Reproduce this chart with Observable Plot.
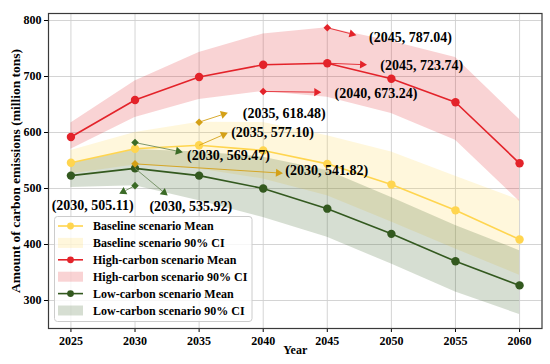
<!DOCTYPE html>
<html>
<head>
<meta charset="utf-8">
<script src="https://cdn.jsdelivr.net/npm/d3@7"></script>
<script src="https://cdn.jsdelivr.net/npm/@observablehq/plot@0.6"></script>
<style>
  body { margin: 0; background: #fff; }
  #chart { width: 550px; height: 364px; }
</style>
</head>
<body>
<div id="chart"></div>
<script>
// ---------- data ----------
const years = [2025, 2030, 2035, 2040, 2045, 2050, 2055, 2060];

const baselineMean = [546, 571, 577.10, 568, 544, 507, 461, 409];
const baselineLow  = [526, 541.82, 535, 517, 487, 440, 392, 345];
const baselineHigh = [568, 600, 618.48, 618, 594, 565, 522, 479];

const highMean = [592, 658, 699, 721, 723.74, 696, 654, 545];
const highLow  = [570, 627, 659, 673.24, 663, 634, 586, 477];
const highHigh = [617, 692, 743, 776, 787.04, 763, 734, 623];

const lowMean = [523, 535.92, 523, 500, 464, 419, 370, 327];
const lowLow  = [502, 505.11, 478, 448, 413, 365, 315, 275];
const lowHigh = [545, 569.47, 565, 556, 532, 484, 434, 389];

const yTicks = [300, 400, 500, 600, 700, 800];

const seriesNames = ["Baseline scenario", "High-carbon scenario", "Low-carbon scenario"];

// annotation arrows: start point, arrow tip and text position in data units
const annotations = [
  {year: 2045, value: 787.04, tipYear: 2047.27, tipValue: 773.8, textYear: 2048.26, textValue: 770.2, label: "(2045, 787.04)", series: "high", diamond: true, anchor: "start"},
  {year: 2045, value: 723.74, tipYear: 2048.1, tipValue: 720.9, textYear: 2049.14, textValue: 719.6, label: "(2045, 723.74)", series: "high", diamond: false, anchor: "start"},
  {year: 2040, value: 673.24, tipYear: 2044.53, tipValue: 672.0, textYear: 2045.57, textValue: 670.2, label: "(2040, 673.24)", series: "high", diamond: true, anchor: "start"},
  {year: 2035, value: 618.48, tipYear: 2037.24, tipValue: 635.2, textYear: 2038.41, textValue: 634.0, label: "(2035, 618.48)", series: "base", diamond: true, anchor: "start"},
  {year: 2035, value: 577.10, tipYear: 2037.24, tipValue: 599.5, textYear: 2037.5, textValue: 599.5, label: "(2035, 577.10)", series: "base", diamond: false, anchor: "start"},
  {year: 2030, value: 582, tipYear: 2033.73, tipValue: 564.8, textYear: 2034.06, textValue: 559.0, label: "(2030, 569.47)", series: "low", diamond: true, anchor: "start"},
  {year: 2030, value: 544, tipYear: 2041.54, tipValue: 527.3, textYear: 2041.72, textValue: 532.0, label: "(2030, 541.82)", series: "base", diamond: true, anchor: "start"},
  {year: 2030, value: 505.11, tipYear: 2028.77, tipValue: 490.5, textYear: 2026.7, textValue: 468.8, label: "(2030, 505.11)", series: "low", diamond: true, anchor: "middle"},
  {year: 2030, value: 535.92, tipYear: 2032.55, tipValue: 487.5, textYear: 2034.35, textValue: 468.4, label: "(2030, 535.92)", series: "low", diamond: false, anchor: "middle"}
];

// ---------- styles ----------
const W = 550, H = 364;
const mL = 48, mR = 8.5, mT = 13, mB = 36;
const xDomain = [2023.25, 2061.75];
const yDomain = [250, 812.5];
const FONT = "'Liberation Serif', 'Times New Roman', serif";

const colors = {
  base: "#FFD54F",
  high: "#E3232A",
  low: "#33591F"
};
const annColors = {
  base: {line: "#D4A017", head: "#D4A017"},
  high: {line: "#E3232A", head: "#E3232A"},
  low:  {line: "#6E8C5E", head: "#3B6B26"}
};
const bandOpacity = 0.2;

// ---------- tables ----------
function rows(mean, lo, hi) {
  return years.map((y, i) => ({year: y, mean: mean[i], lo: lo[i], hi: hi[i]}));
}
const baseRows = rows(baselineMean, baselineLow, baselineHigh);
const highRows = rows(highMean, highLow, highHigh);
const lowRows = rows(lowMean, lowLow, lowHigh);

// arrow geometry (pixel space -> data space)
const sx = d3.scaleLinear(xDomain, [mL, W - mR]);
const sy = d3.scaleLinear(yDomain, [H - mB, mT]);
const headR = 3;
const headSize = Math.PI * headR * headR;
const hy = Math.sqrt(headSize / (Math.sqrt(3) * 3));
const arrows = annotations.map(a => {
  const x0 = sx(a.year), y0 = sy(a.value);
  const x1 = sx(a.tipYear), y1 = sy(a.tipValue);
  const len = Math.hypot(x1 - x0, y1 - y0);
  const ux = (x1 - x0) / len, uy = (y1 - y0) / len;
  const cx = x1 - ux * 2 * hy, cy = y1 - uy * 2 * hy;
  const bx = x1 - ux * 3 * hy, by = y1 - uy * 3 * hy;
  return {
    ...a,
    lineX: sx.invert(bx), lineY: sy.invert(by),
    headX: sx.invert(cx), headY: sy.invert(cy),
    angle: Math.atan2(ux, -uy) * 180 / Math.PI,
    lineColor: annColors[a.series].line,
    headColor: annColors[a.series].head
  };
});

function bandMark(data, color) {
  return Plot.areaY(data, {x: "year", y1: "lo", y2: "hi", fill: color, fillOpacity: bandOpacity});
}
function lineMarks(data, color) {
  return [
    Plot.lineY(data, {x: "year", y: "mean", stroke: color, strokeWidth: 1.6}),
    Plot.dot(data, {x: "year", y: "mean", fill: color, r: 4.2})
  ];
}

const plot = Plot.plot({
  width: W,
  height: H,
  marginLeft: mL,
  marginRight: mR,
  marginTop: mT,
  marginBottom: mB,
  style: {fontFamily: FONT, fontSize: "12px", fontWeight: "bold", background: "white", color: "#000"},
  x: {domain: xDomain, ticks: years, tickFormat: "d", label: null},
  y: {domain: yDomain, ticks: yTicks, label: null},
  marks: [
    Plot.gridX(years, {stroke: "#cfcfcf", strokeOpacity: 1, strokeWidth: 0.9}),
    Plot.gridY(yTicks, {stroke: "#cfcfcf", strokeOpacity: 1, strokeWidth: 0.9}),
    bandMark(baseRows, colors.base),
    bandMark(highRows, colors.high),
    bandMark(lowRows, colors.low),
    ...lineMarks(baseRows, colors.base),
    ...lineMarks(highRows, colors.high),
    ...lineMarks(lowRows, colors.low),
    Plot.link(arrows, {x1: "year", y1: "value", x2: "lineX", y2: "lineY", stroke: "lineColor", strokeWidth: 0.9}),
    Plot.dot(arrows, {x: "headX", y: "headY", symbol: "triangle", r: headR, fill: "headColor", rotate: "angle"}),
    Plot.dot(arrows.filter(d => d.diamond), {x: "year", y: "value", symbol: "diamond2", r: 3.4, fill: "headColor"}),
    Plot.text(arrows.filter(d => d.anchor === "start"), {x: "textYear", y: "textValue", text: "label", textAnchor: "start", fontSize: 14, fontWeight: "bold", fill: "#000"}),
    Plot.text(arrows.filter(d => d.anchor === "middle"), {x: "textYear", y: "textValue", text: "label", textAnchor: "middle", fontSize: 14, fontWeight: "bold", fill: "#000"}),
    Plot.axisX(years, {tickSize: 4, tickPadding: 4, tickFormat: "d", label: null, fontSize: 12}),
    Plot.axisY(yTicks, {tickSize: 4, tickPadding: 3, label: null, fontSize: 12}),
    Plot.frame({stroke: "#3a3a3a", strokeWidth: 1.2}),
    Plot.text(["Year"], {frameAnchor: "bottom", dy: 25, fontSize: 12, fontWeight: "bold"}),
    Plot.text(["Amount of carbon emissions (million tons)"], {frameAnchor: "left", textAnchor: "middle", dx: -33, rotate: -90, fontSize: 13.5, fontWeight: "bold"})
  ]
});

// ---------- legend (inside plot, lower left) ----------
const svg = d3.select(plot);
const lg = svg.append("g")
  .attr("font-family", FONT).attr("font-weight", "bold").attr("font-size", 12)
  .attr("text-anchor", "start");
lg.append("rect").attr("x", 54.5).attr("y", 216.5).attr("width", 197.5).attr("height", 105)
  .attr("rx", 3).attr("fill", "white").attr("fill-opacity", 0.8).attr("stroke", "#cccccc").attr("stroke-width", 1);
const legendItems = [
  {label: seriesNames[0] + " Mean", color: colors.base, kind: "line"},
  {label: seriesNames[0] + " 90% CI", color: colors.base, kind: "band"},
  {label: seriesNames[1] + " Mean", color: colors.high, kind: "line"},
  {label: seriesNames[1] + " 90% CI", color: colors.high, kind: "band"},
  {label: seriesNames[2] + " Mean", color: colors.low, kind: "line"},
  {label: seriesNames[2] + " 90% CI", color: colors.low, kind: "band"}
];
legendItems.forEach((it, i) => {
  const cy = 226 + i * 16.9;
  if (it.kind === "line") {
    lg.append("line").attr("x1", 58).attr("x2", 83).attr("y1", cy).attr("y2", cy)
      .attr("stroke", it.color).attr("stroke-width", 1.6);
    lg.append("circle").attr("cx", 70.5).attr("cy", cy).attr("r", 3.4).attr("fill", it.color);
  } else {
    lg.append("rect").attr("x", 58).attr("y", cy - 5).attr("width", 25).attr("height", 10)
      .attr("fill", it.color).attr("fill-opacity", bandOpacity);
  }
  lg.append("text").attr("x", 93).attr("y", cy).attr("dy", "0.35em").attr("text-anchor", "start")
    .attr("fill", "#000").text(it.label);
});

document.getElementById("chart").appendChild(plot);
</script>
</body>
</html>
